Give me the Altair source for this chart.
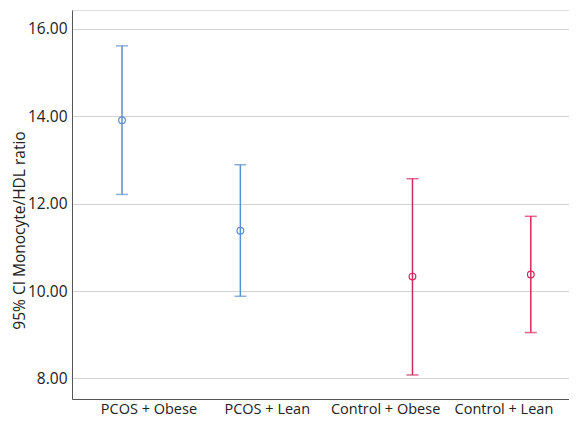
import altair as alt
import pandas as pd

categories = ["PCOS + Obese", "PCOS + Lean", "Control + Obese", "Control + Lean"]
groups = ["PCOS", "PCOS", "Control", "Control"]
means = [13.91, 11.38, 10.33, 10.38]
lower = [12.21, 9.88, 8.08, 9.05]
upper = [15.61, 12.89, 12.57, 11.71]
y_ticks = [8, 10, 12, 14, 16]

df = pd.DataFrame({"cat": categories, "group": groups, "mean": means,
                   "lo": lower, "hi": upper})

FONT = "Open Sans"
x_enc = alt.X("cat:N", sort=categories, title=None,
              scale=alt.Scale(domain=categories, paddingInner=0,
                              paddingOuter=0.1, align=0.75),
              axis=alt.Axis(labelAngle=0, ticks=False, domainColor="#555555",
                            labelFontSize=14.5, labelColor="#222222",
                            labelPadding=3, labelFont=FONT))
xo_enc = alt.XOffset("group:N", scale=alt.Scale(domain=["PCOS", "Control"],
                                                paddingInner=0, paddingOuter=0.1))
color_enc = alt.Color("group:N", legend=None,
                      scale=alt.Scale(domain=["PCOS", "Control"],
                                      range=["#5d90d2", "#d22a5c"]))
y_scale = alt.Scale(domain=[7.53, 16.43], nice=False, zero=False)

base = alt.Chart(df).encode(x=x_enc, xOffset=xo_enc, color=color_enc)

rules = base.mark_rule(strokeWidth=1.5).encode(
    y=alt.Y("lo:Q", scale=y_scale,
            axis=alt.Axis(values=y_ticks, format=".2f", ticks=False,
                          grid=True, gridColor="#d3d3d3", domainColor="#555555",
                          labelFontSize=15.5, labelColor="#222222", labelFont=FONT,
                          labelPadding=5,
                          title="95% CI Monocyte/HDL ratio", titleFont=FONT,
                          titleFontSize=15.5, titleFontWeight="normal",
                          titleColor="#222222", titleAngle=270,
                          titleX=-53, titleY=220, titleAlign="center",
                          titleBaseline="middle")),
    y2="hi:Q")
cap_lo = base.mark_tick(orient="horizontal", size=12, thickness=1.5).encode(
    y=alt.Y("lo:Q", scale=y_scale))
cap_hi = base.mark_tick(orient="horizontal", size=12, thickness=1.5).encode(
    y=alt.Y("hi:Q", scale=y_scale))
pts = base.mark_point(shape="circle", filled=False, size=45, strokeWidth=1.2,
                      fill="white", fillOpacity=0).encode(
    y=alt.Y("mean:Q", scale=y_scale))

chart = alt.layer(rules, cap_lo, cap_hi, pts).properties(
    width=497, height=389,
    autosize=alt.AutoSizeParams(type="none"),
    padding={"left": 64, "top": 2, "right": 0, "bottom": 18},
).configure_view(stroke=None).configure(background="white")

chart.save("out.html", embed_options={"renderer": "svg", "actions": False})
